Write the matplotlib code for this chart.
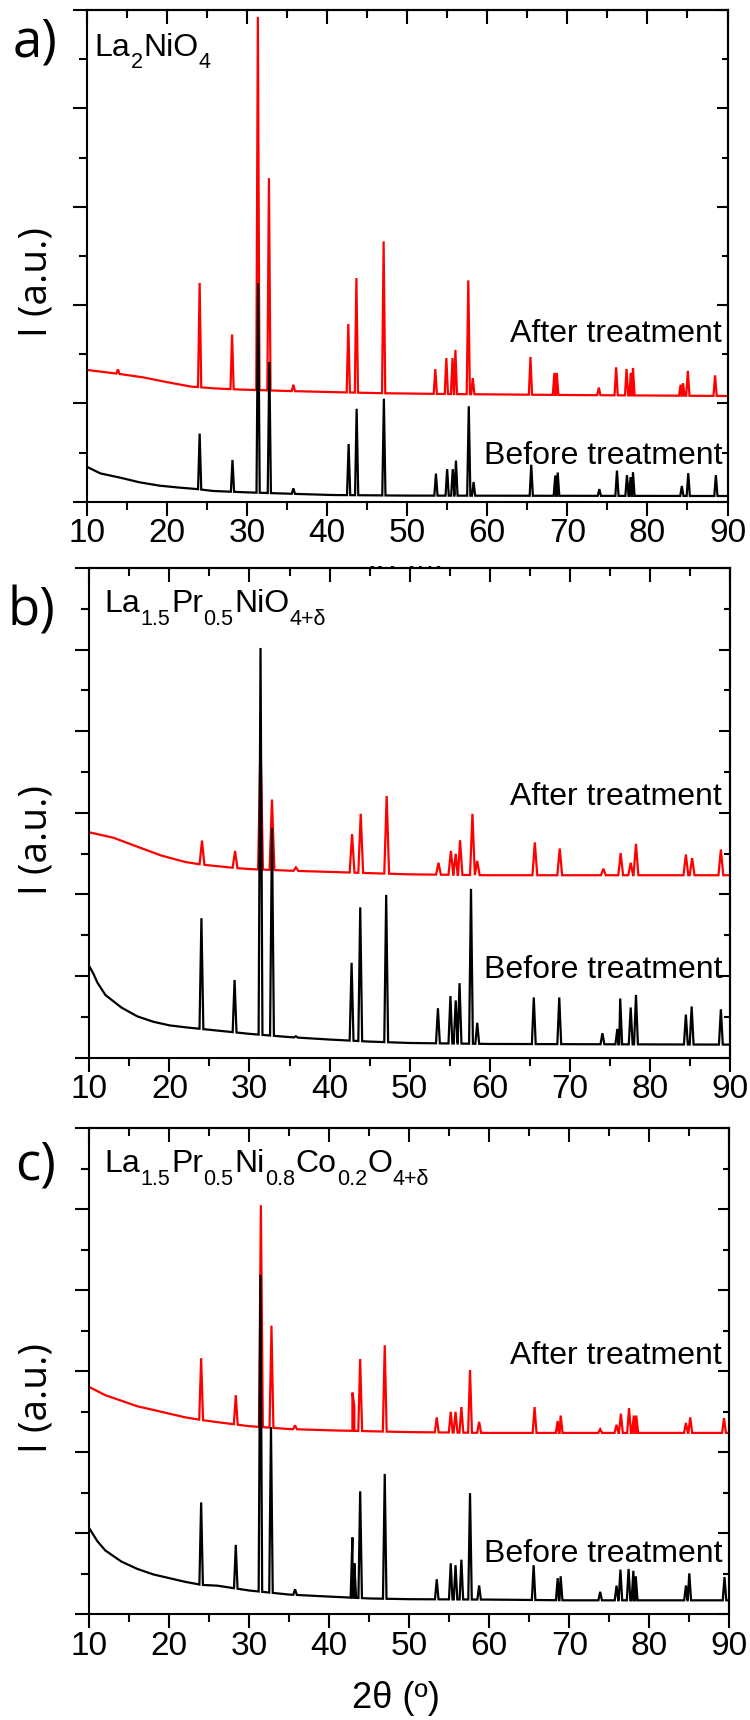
import numpy as np
import matplotlib
matplotlib.use("Agg")
import matplotlib.pyplot as plt
from matplotlib.ticker import MultipleLocator
from matplotlib.patches import Rectangle

# ---------------- data ----------------
# y in arbitrary units (1 unit = one major y tick)
# Panel a : La2NiO4
a_after_bg_x = [10, 12, 14, 17, 20, 23, 26, 29, 35, 41, 47, 55, 70, 90]
a_after_bg_y = [1.34, 1.32, 1.30, 1.265, 1.216, 1.171, 1.152, 1.141, 1.126, 1.114, 1.103, 1.095, 1.085, 1.075]
a_after_pk_x = [13.9, 24.1, 28.15, 31.37, 32.75, 35.8, 42.66, 43.67, 47.07, 53.52, 54.9, 55.67, 56.03,
                57.64, 58.2, 65.4, 68.39, 68.69, 73.94, 76.1, 77.4, 77.94, 78.2, 84.15, 84.45, 85.05, 88.45]
a_after_pk_y = [1.345, 2.225, 1.70, 4.93, 3.29, 1.19, 1.807, 2.274, 2.647, 1.348, 1.461, 1.461, 1.544,
                2.251, 1.258, 1.472, 1.31, 1.31, 1.16, 1.367, 1.35, 1.31, 1.36, 1.19, 1.205, 1.33, 1.285]

a_before_bg_x = [10, 11.7, 14.2, 16.6, 19.1, 21.6, 23.7, 25.8, 30, 36.6, 40.7, 50, 70, 90]
a_before_bg_y = [0.356, 0.288, 0.244, 0.197, 0.163, 0.143, 0.129, 0.109, 0.095, 0.078, 0.068, 0.062, 0.060, 0.058]
a_before_pk_x = [24.1, 28.2, 31.4, 32.8, 35.8, 42.7, 43.7, 47.1, 53.6, 55.0, 55.7, 56.1, 57.7, 58.3,
                 65.5, 68.5, 68.8, 74.0, 76.2, 77.45, 77.9, 78.2, 84.3, 85.1, 88.55]
a_before_pk_y = [0.693, 0.425, 2.22, 1.42, 0.136, 0.587, 0.945, 1.047, 0.286, 0.331, 0.331, 0.418, 0.971, 0.20,
                 0.376, 0.267, 0.297, 0.128, 0.316, 0.27, 0.25, 0.30, 0.16, 0.29, 0.27]

# Panel b : La1.5Pr0.5NiO4+d
b_after_bg_x = [10, 13, 16, 19, 22, 24, 26, 28, 30, 35, 40, 50, 60, 90]
b_after_bg_y = [2.76, 2.694, 2.584, 2.475, 2.396, 2.365, 2.345, 2.325, 2.31, 2.29, 2.275, 2.245, 2.234, 2.234]
b_after_pk_x = [24.07, 28.2, 31.38, 32.81, 35.8, 42.81, 43.89, 47.13, 53.6, 55.15, 55.75, 56.29, 57.84, 58.44,
                65.63, 68.74, 74.19, 76.35, 77.6, 78.26, 84.49, 85.27, 88.86]
b_after_pk_y = [2.659, 2.532, 3.92, 3.162, 2.33, 2.738, 2.987, 3.206, 2.387, 2.532, 2.497, 2.663, 2.987, 2.409,
                2.637, 2.562, 2.313, 2.505, 2.387, 2.619, 2.488, 2.444, 2.549]

b_before_bg_x = [10, 10.5, 11, 12, 14, 16, 18, 20, 22, 24, 26, 28, 30, 35, 40, 45, 50, 60, 90]
b_before_bg_y = [1.117, 1.03, 0.92, 0.767, 0.613, 0.504, 0.438, 0.394, 0.37, 0.35, 0.33, 0.31, 0.29, 0.25,
                 0.22, 0.195, 0.178, 0.166, 0.158]
b_before_pk_x = [24.0, 28.14, 31.38, 32.81, 35.8, 42.75, 43.83, 47.07, 53.53, 55.09, 55.75, 56.23, 57.66, 58.44,
                 65.5, 68.68, 74.07, 75.93, 76.29, 77.6, 78.26, 84.49, 85.21, 88.86]
b_before_pk_y = [1.708, 0.95, 5.02, 2.81, 0.26, 1.161, 1.84, 1.993, 0.604, 0.753, 0.70, 0.911, 2.067, 0.425,
                 0.736, 0.736, 0.298, 0.35, 0.723, 0.613, 0.767, 0.526, 0.626, 0.591]

# Panel c : La1.5Pr0.5Ni0.8Co0.2O4+d
c_after_bg_x = [10, 12, 14, 16, 18, 20, 22, 24, 26, 28, 30, 35, 40, 50, 60, 90]
c_after_bg_y = [2.804, 2.703, 2.635, 2.566, 2.521, 2.475, 2.429, 2.397, 2.37, 2.345, 2.32, 2.285, 2.269, 2.247,
                2.237, 2.237]
c_after_pk_x = [23.98, 28.31, 31.45, 32.77, 35.72, 42.89, 43.13, 43.86, 46.93, 53.43, 55.18, 55.78, 56.51, 57.59,
                58.73, 65.66, 68.55, 68.92, 73.86, 75.9, 76.45, 77.47, 78.07, 78.37, 84.58, 85.12, 89.34]
c_after_pk_y = [3.16, 2.703, 5.05, 3.562, 2.33, 2.735, 2.566, 3.151, 3.32, 2.429, 2.498, 2.498, 2.557, 3.014,
                2.374, 2.557, 2.384, 2.452, 2.283, 2.338, 2.475, 2.543, 2.452, 2.452, 2.361, 2.429, 2.42]

c_before_bg_x = [10, 11, 12, 14, 16, 18, 20, 22, 24, 26, 28, 30, 35, 40, 45, 50, 60, 70, 90]
c_before_bg_y = [1.059, 0.90, 0.785, 0.648, 0.557, 0.489, 0.443, 0.397, 0.36, 0.35, 0.32, 0.29, 0.24, 0.215,
                 0.192, 0.183, 0.178, 0.169, 0.169]
c_before_pk_x = [23.98, 28.31, 31.39, 32.71, 35.72, 42.89, 43.13, 43.86, 46.93, 53.43, 55.18, 55.78, 56.51, 57.59,
                 58.73, 65.54, 68.55, 68.92, 73.86, 75.9, 76.39, 77.41, 78.01, 78.31, 84.58, 85.0, 89.4]
c_before_pk_y = [1.379, 0.854, 4.19, 2.31, 0.306, 0.945, 0.626, 1.516, 1.731, 0.429, 0.626, 0.603, 0.671, 1.493,
                 0.352, 0.603, 0.443, 0.466, 0.274, 0.35, 0.548, 0.557, 0.534, 0.466, 0.352, 0.502, 0.457]

x_ticks = [10, 20, 30, 40, 50, 60, 70, 80, 90]
panel_letters = ["a)", "b)", "c)"]
formulas = [
    [("La", 0), ("2", 1), ("NiO", 0), ("4", 1)],
    [("La", 0), ("1.5", 1), ("Pr", 0), ("0.5", 1), ("NiO", 0), ("4+\u03b4", 1)],
    [("La", 0), ("1.5", 1), ("Pr", 0), ("0.5", 1), ("Ni", 0), ("0.8", 1), ("Co", 0), ("0.2", 1),
     ("O", 0), ("4+\u03b4", 1)],
]
after_label = "After treatment"
before_label = "Before treatment"
y_label = "I (a.u.)"
x_label = "2\u03b8 (\u00ba)"

# ---------------- figure ----------------
plt.rcParams['font.family'] = ['Liberation Sans', 'DejaVu Sans']
W, H = 750, 1720
fig = plt.figure(figsize=(7.5, 17.2), dpi=100)
fig.patch.set_facecolor("white")


def fx(px):
    return px / W


def fy(py):
    return 1 - py / H


def trace(bg_x, bg_y, pk_x, pk_y, w):
    bx = np.asarray(bg_x, float)
    by = np.asarray(bg_y, float)
    px = np.asarray(pk_x, float)
    py = np.asarray(pk_y, float)
    keep = np.array([np.all(np.abs(v - px) > w) for v in bx])
    xs = np.concatenate([bx[keep], px - w, px, px + w])
    ys = np.concatenate([by[keep], np.interp(px - w, bx, by), py, np.interp(px + w, bx, by)])
    order = np.argsort(xs, kind="stable")
    return xs[order], ys[order]


panels = [
    dict(box=(86.7, 10.0, 727.5, 501.7), ymax=5,
         after=(a_after_bg_x, a_after_bg_y, a_after_pk_x, a_after_pk_y),
         before=(a_before_bg_x, a_before_bg_y, a_before_pk_x, a_before_pk_y), wa=0.2, wb=0.2,
         after_base=342, before_base=464, form_x=94.5, form_base=55.5,
         letter_xy=(12.5, 56.7), ylab_y=282),
    dict(box=(89.3, 568.0, 730.0, 1057.5), ymax=6,
         after=(b_after_bg_x, b_after_bg_y, b_after_pk_x, b_after_pk_y),
         before=(b_before_bg_x, b_before_bg_y, b_before_pk_x, b_before_pk_y), wa=0.3, wb=0.24,
         after_base=805, before_base=978, form_x=104.5, form_base=612,
         letter_xy=(7.0, 626), ylab_y=840),
    dict(box=(89.3, 1128.3, 729.3, 1614.0), ymax=6,
         after=(c_after_bg_x, c_after_bg_y, c_after_pk_x, c_after_pk_y),
         before=(c_before_bg_x, c_before_bg_y, c_before_pk_x, c_before_pk_y), wa=0.24, wb=0.22,
         after_base=1364, before_base=1562, form_x=104.5, form_base=1171.7,
         letter_xy=(15.5, 1180), ylab_y=1398),
]

renderer = fig.canvas.get_renderer()
axes = []
for i, p in enumerate(panels):
    l, t, r, b = p["box"]
    ax = fig.add_axes([fx(l), fy(b), (r - l) / W, (b - t) / H])
    ax.set_facecolor("white")
    axes.append(ax)

    xa, ya = trace(*p["after"], p["wa"])
    xb, yb = trace(*p["before"], p["wb"])
    ax.plot(xa, ya, color="#ff0000", lw=1.6, solid_joinstyle="miter")
    ax.plot(xb, yb, color="black", lw=1.6, solid_joinstyle="miter")

    ax.set_xlim(10, 90)
    ax.set_ylim(0, p["ymax"])
    ax.set_xticks(x_ticks)
    ax.set_xticklabels([str(v) for v in x_ticks])
    ax.xaxis.set_minor_locator(MultipleLocator(5))
    ax.yaxis.set_major_locator(MultipleLocator(1))
    ax.yaxis.set_minor_locator(MultipleLocator(0.5))
    ax.tick_params(axis="x", which="both", direction="out", top=False, bottom=True,
                   labelsize=24, pad=2, width=1.5)
    ax.tick_params(axis="x", which="major", length=10)
    ax.tick_params(axis="x", which="minor", length=6)
    ax.tick_params(axis="y", which="both", direction="out", left=True, right=False,
                   labelleft=False, width=1.5)
    ax.tick_params(axis="y", which="major", length=10)
    ax.tick_params(axis="y", which="minor", length=6)
    for s in ax.spines.values():
        s.set_linewidth(1.5)

    top = ax.secondary_xaxis("top")
    top.xaxis.set_major_locator(MultipleLocator(10))
    top.xaxis.set_minor_locator(MultipleLocator(5))
    top.tick_params(which="both", direction="in", labeltop=False, width=1.5)
    top.tick_params(which="major", length=10)
    top.tick_params(which="minor", length=6)
    top.spines["top"].set_linewidth(1.5)

    right = ax.secondary_yaxis("right")
    right.yaxis.set_major_locator(MultipleLocator(1))
    right.yaxis.set_minor_locator(MultipleLocator(0.5))
    right.tick_params(which="both", direction="in", labelright=False, width=1.5)
    right.tick_params(which="major", length=8)
    right.tick_params(which="minor", length=4)
    right.spines["right"].set_linewidth(1.5)

    # annotations
    fig.text(fx(722), fy(p["after_base"]), after_label, ha="right", va="baseline", fontsize=23)
    fig.text(fx(722), fy(p["before_base"]), before_label, ha="right", va="baseline", fontsize=23)

    # formula built from pieces with lowered, smaller subscripts
    x = p["form_x"]
    for txt, sub in formulas[i]:
        fs = 15.5 if sub else 23
        yy = p["form_base"] + (13 if sub else 0)
        tt = fig.text(fx(x), fy(yy), txt, fontsize=fs, ha="left", va="baseline")
        x += tt.get_window_extent(renderer).width + 0.5

    lx, ly = p["letter_xy"]
    fig.text(fx(lx), fy(ly), panel_letters[i], ha="left", va="baseline", fontsize=38,
             family=["Open Sans", "DejaVu Sans"])
    fig.text(fx(36), fy(p["ylab_y"]), y_label, rotation=90, ha="center", va="center",
             fontsize=28, family=["Open Sans", "DejaVu Sans"])

# x label of panel a, mostly hidden behind panel b (drawn with panel a)
axes[0].text(fx(400), fy(585), x_label, transform=fig.transFigure, ha="center", va="baseline",
             fontsize=26)
fig.add_artist(Rectangle((0, fy(566)), 1, 8 / H, transform=fig.transFigure,
                         facecolor="white", edgecolor="none", zorder=0.5))
# x label of bottom panel
fig.text(fx(395.5), fy(1708), x_label, ha="center", va="baseline", fontsize=26)

fig.savefig("out.png", dpi=100, facecolor="white")
